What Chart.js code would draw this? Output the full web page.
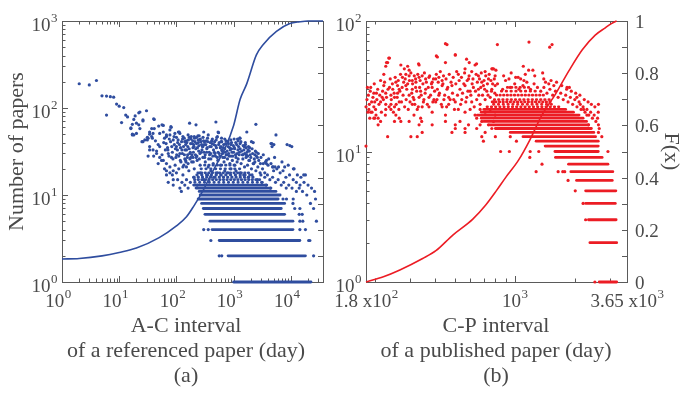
<!DOCTYPE html>
<html>
<head>
<meta charset="utf-8">
<script src="https://cdn.jsdelivr.net/npm/chart.js@4.4.0/dist/chart.umd.min.js"></script>
<style>
  html, body { margin: 0; padding: 0; background: #fff; }
  #wrap { position: relative; width: 682px; height: 395px; }
  .panel { position: absolute; top: 0; height: 395px; }
</style>
</head>
<body>
<div id="wrap">
  <div class="panel" style="left:0;width:341px"><canvas id="chartA"></canvas></div>
  <div class="panel" style="left:300px;width:382px"><canvas id="chartB"></canvas></div>
</div>
<script>
// ---------- panel (a): A-C interval ----------
var aTailPts = [[2,190],[3,184],[4,207],[5,138],[6,137],[7,135],[8,133],[6,83],[9,111],[10,105],[12,101],[11,68],
  [13,83],[14,79],[17,65],[18,74],[16,59],[19,81],[22,88],[23,90],[30,93],[26,71],[17,50],[18,49],[20,51],[26,41],
  [28,43],[31,46],[40,75],[37,58],[41,58],[49,62],[56,64],[59,63],[81,60],[34,50],[31,43],[38,45],[20,67],[22,64],
  [16,58],[17,49],[26,73],[23,58],[41,74],[34,53],[39,51],[25,41],[32,45],[37,47],[80,61],[112,53]];

var aCloudPts = [[170,67],[220,64],[490,69],[2450,65],[205,47],[250,48],[300,53],[545,52],[520,47],[535,53],
  [1285,45],[1170,44],[1700,53],[5500,49],[4650,39],[5050,38],[8600,38],[9600,37],[10400,36],[1600,40],[2200,40],
  [2400,32],[2500,31],[1670,29],[1850,25],[2350,24],[2940,23],[3740,23],[4800,21],[5300,21],[6100,21],[7800,21],
  [11100,20],[16800,17],[1020,44],[1290,45],[1200,42],[2050,41],[4500,39],[4700,36],[800,36],[920,34],[1530,36],
  [1780,33],[2700,30],[3750,25],[4900,21],[11400,20],[18000,17],[3500,18],[3000,17],[1460,29],[1200,26],[2200,23],
  [700,44],[620,41],[310,41],[240,43],[160,49],[180,44],[140,41],
  [51,51],[59,53],[67,47],[77,49],[88,43],[100,46],[115,51],[34,36],[39,33],[45,30],[51,27],[59,25],[67,23],[77,21],
  [88,19],[100,18],[67,17],[72,14],[88,13],[115,12],[122,11],[150,33],[172,30],[195,27],[225,39],[257,43],[290,36],
  [34,33],[32,28],[45,32],[51,36],[48,23],[55,25],[67,19],[77,18],[88,15],[67,49],[77,56],[94,51],[108,53],[130,47],
  [100,36],[115,30],[140,26],[150,21],
  [110,28],[125,33],[135,22],[145,38],[155,27],[165,19],[175,31],[185,24],[195,35],[205,20],[215,29],[230,25],
  [245,32],[260,22],[275,38],[290,27],[305,31],[320,24],[340,34],[360,21],[380,29],[400,26],[420,39],[440,23],
  [460,31],[480,28],[500,35],[530,25],[560,30],[590,22],[620,33],[650,27],[680,24],[710,31],[740,29],[780,26],
  [820,30],[860,23],[900,28],[950,25],[1000,31],[1050,22],[1100,27],[1150,24],[1250,29],[1350,23],[1450,26],
  [1550,21],[1650,27],[1750,22],[1900,25],[2050,20],[2250,23],[2450,19],[2650,21],[2900,18],[3200,20],[3500,16],
  [3900,17],[4300,15],[4800,16],[5400,14],[6000,15],[6800,13],[7500,14],[8300,12],[9200,13],[10500,12],[12500,11],
  [14000,12],[16000,11],[19000,10],[130,17],[150,15],[175,14],[200,16],[230,13],[260,18],[300,15],[350,17],
  [400,19],[450,16],[520,18],[600,17],[700,19],[800,18],[900,20],[1100,19],[1300,18],[1500,17],[1800,16],
  [2100,17],[2600,15],[3100,14],[3700,13],[4400,12],[200,38],[350,45],[600,36],[900,38],[1300,34],[1900,35],
  [2600,27],[3300,29],[4100,26],[5200,27],[7000,24],[9000,22],[13000,17],[15000,16],[20000,13],[23000,12],
  [26000,11],[27000,9],[22000,8],[25000,7],[28000,5],
  [105,40],[118,35],[128,44],[138,29],[148,42],[158,36],[168,46],[178,27],[188,39],[198,31],[208,45],[218,34],
  [228,28],[238,48],[248,37],[258,30],[268,41],[280,33],[292,46],[305,38],[318,29],[332,42],[345,35],[360,49],
  [375,31],[390,40],[405,36],[425,44],[445,33],[465,41],[485,37],[510,46],[535,31],[560,40],[585,35],[615,45],
  [640,30],[670,38],[700,34],[735,42],[770,32],[810,39],[850,35],[890,43],[940,31],[990,37],[1040,34],[1090,40],
  [1150,30],[1220,36],[1300,39],[1380,32],[1470,37],[1560,30],[1650,35],[1760,28],[1880,32],[2000,27],[2150,30],
  [2300,26],[2500,28],[2750,25],[3000,27],[3300,23],[3600,24],[4000,22],[4500,23],[5000,19],[5700,20],[6500,18],
  [7300,19],[8200,16],[9500,17],[11000,15],[12500,14],[14500,13],[17000,14],[60,40],[70,35],[75,44],[85,31],
  [92,38],[98,27],[104,33],[120,24],[130,21],[145,25],[160,23],[110,20],[95,22],[82,27],[72,30],[64,33],[56,29],
  [48,38],[43,42],[40,28],[62,20],[85,17],[105,15],[125,14],[140,13],[160,12],
  [62,45],[66,39],[71,33],[74,28],[79,41],[83,36],[87,26],[91,47],[96,34],[101,29],[107,43],[113,38],[117,25],
  [123,41],[127,30],[133,36],[137,45],[142,33],[147,24],[152,40],[157,29],[162,43],[167,34],[172,26],[177,39],
  [182,47],[187,29],[192,42],[197,24],[203,36],[211,41],[221,27],[226,46],[233,35],[242,40],[252,26],[262,44],
  [272,31],[285,36],[298,42],[312,27],[326,38],[338,31],[352,41],[367,26],[383,36],[398,30],[414,42],[432,28],
  [452,38],[473,30],[495,43],[518,27],[547,38],[575,28],[605,41],[632,32],[662,35],[695,27],[725,39],[758,29],
  [795,41],[835,28],[875,33],[920,40],[970,28],[1030,35],[1080,29],[1130,38],[1190,33],[1260,31],[1340,41],
  [1420,29],[1510,33],[1610,38],[1710,31],[1820,36],[1950,29],[2100,34],[2350,29]];

// rows of equal counts: [count, first day, last day]
var aRows = [[1,1000,22500],[2,800,18000],[3,560,14400],[4,420,10900],[5,385,10900],[6,315,7800],[7,295,6800],
  [8,275,7800],[9,240,6000],[10,260,6500],[11,250,5500],[12,220,4500],[13,200,3800],[14,200,3300],[15,190,2900],
  [16,200,2500],[17,210,2200],[18,220,1900],[20,240,1500],[22,300,1100]];
var aRowSingles = [[560,2],[620,2],[25000,2],[400,3],[20500,3],[21500,3],[300,4],[360,4],[14400,4],[18000,4],
  [14400,5],[16200,5],[14000,6],[15800,6],[11700,7],[14400,7],[10900,8],[7300,9],[8400,9],[11000,9]];

var aCdfX = [1,2,5,10,20,50,100,150,200,300,400,500,700,1000,1300,1700,2500,3300,5600,9600,14400,20000,36500];
var aCdfF = [0.088,0.09,0.10,0.113,0.13,0.17,0.215,0.25,0.29,0.355,0.41,0.45,0.51,0.6,0.7,0.76,0.87,0.91,0.96,0.99,0.997,1,1];

var aXTickExps = ['0','1','2','3','4'];
var aYTickExps = ['0','1','2','3'];

// ---------- panel (b): C-P interval ----------
var bCloudPts = [[180,22],[184,20],[186,21],[190,20],[188,18],[193,20],[197,22],[199,18],[202,19],[207,18],
  [183,31],[190,31],[197,28],[204,25],[199,24],[213,24],[217,26],[197,18],[207,16],[213,17],
  [213,35],[221,39],[226,45],[231,48],[236,52],[221,32],[236,31],[245,30],[254,34],[259,32],[264,30],
  [226,28],[240,27],[250,26],[259,28],[226,23],[240,23],[250,22],[264,24],[226,21],[240,21],
  [254,19],[250,17],[264,18],[269,17],[231,13],[180,11],
  [269,46],[280,43],[291,45],[296,42],[274,37],[285,39],[296,38],
  [307,35],[319,36],[332,37],[344,38],[358,36],[372,37],[386,34],[402,36],[417,37],[433,35],
  [332,46],[410,53],[458,66],[504,55],[450,48],
  [285,32],[307,30],[319,31],[338,29],[358,30],[386,31],[410,30],[433,32],[458,30],[485,32],
  [296,27],[313,25],[332,26],[351,25],[372,26],[394,25],[417,27],[442,25],[467,26],[495,25],
  [307,23],[325,21],[344,22],[372,22],[402,24],[433,22],[467,23],[504,24],
  [313,19],[338,18],[386,20],[450,19],[296,17],[332,16],[342,17],[386,16],[450,17],[504,16],
  [302,13],[325,13],[344,14],[504,15],[485,14],[564,14],[697,12],[684,13],
  [522,39],[564,43],[587,36],[609,41],[633,46],[658,38],[684,34],[711,41],[739,36],[768,43],[798,38],
  [532,30],[564,32],[598,29],[621,31],[658,30],[697,32],[725,29],[768,30],[798,32],
  [543,25],[575,26],[609,24],[645,25],[671,23],[711,25],[754,26],[783,24],
  [522,21],[564,20],[598,21],[633,19],[671,21],[711,20],[754,21],[798,19],
  [532,17],[587,16],[645,18],[684,17],[739,16],[783,17],[564,15],[645,15],[671,16],[711,14],[768,15],
  [450,67],[819,66],[1179,69],[1497,63],[1538,66],[405,54],[504,55],[228,48],[234,52],[330,47],
  [574,51],[592,48],[644,47],[1104,45],[783,43],[1174,42],[1233,42],
  [774,43],[805,42],[936,36],[1011,37],[1071,36],[1112,35],[1398,36],[1427,34],[1481,33],[1570,32],
  [1828,31],[1878,31],[2048,26],[2626,23],[2130,23],[2213,21],[2298,19],[2342,16],[2626,16],[2626,14],[2730,13],
  [820,33],[870,30],[900,35],[950,31],[1000,33],[1050,30],[1100,32],[1150,34],[1200,30],[1250,33],[1300,31],
  [1350,29],[1400,31],[1450,28],[1500,30],[1550,27],[1600,29],[1650,26],[1700,28],[1750,25],[1800,27],
  [1850,24],[1900,26],[1950,23],[2000,25],[2050,22],[2100,24],[2150,21],[2200,22],[2250,20],[2300,21],
  [2350,19],[2400,20],[2450,18],[2500,19],[2550,17],[2600,18],[2650,15],
  [880,38],[960,40],[1040,37],[1130,39],[1260,38],[1380,40],[1520,35],[1620,34],[1720,32],[1820,30],
  [1920,29],[2020,28],[2120,27],[2230,25],[2330,24],[2420,23],[2520,22],[2620,20],
  [182,25],[185,27],[187,23],[189,29],[192,24],[195,26],[198,33],[201,21],[203,28],[206,30],[209,23],[211,27],
  [215,20],[218,29],[220,25],[223,34],[225,19],[228,26],[232,30],[235,22],[238,36],[241,25],[244,33],[247,20],
  [249,28],[252,37],[255,23],[258,26],[261,35],[263,21],[266,29],[268,39],[271,24],[273,31],[276,27],[278,34],
  [281,22],[283,36],[286,25],[288,30],[291,33],[293,21],[297,35],[299,24],[302,40],[305,28],[308,33],[310,26],
  [314,38],[316,23],[320,34],[323,29],[327,39],[329,22],[334,31],[336,35],[340,27],[347,33],[349,24],[353,40],
  [356,28],[361,34],[365,23],[369,31],[375,38],[379,27],[383,33],[389,24],[392,36],[397,29],[405,39],[408,25],
  [414,34],[420,28],[424,41],[429,23],[437,33],[440,38],[446,27],[453,36],[456,22],[462,31],[470,39],[475,25],
  [480,34],[488,28],[492,37],[499,21],[507,33],[512,41],[517,27],[527,35],[536,23],[541,37],[548,28],[556,33],
  [561,40],[569,24],[578,35],[583,29],[591,38],[603,27],[612,33],[618,36],[627,22],[636,29],[641,39],[650,34],
  [661,27],[666,36],[676,31],[680,40],[690,27],[702,35],[707,30],[716,38],[730,33],[735,27],[745,39],[760,35],
  [765,29],[775,33],[790,36],[795,28]];

var bRows = [[1,2650,3240],[2,2380,3240],[3,2340,3220],[4,2265,3190],[5,2265,3210],[6,2040,3080],[7,1910,3100],
  [8,1860,2930],[9,1600,2740],[10,1590,2620],[11,1420,2620],[12,1280,2620],[13,1100,2540],[14,950,2490],
  [15,800,2420],[16,750,2340],[17,700,2290],[18,680,2200],[19,650,2100],[20,680,1970],[21,700,1800],
  [22,720,1700],[23,750,1600],[24,760,1550],[25,780,1500],[27,800,1400],[29,850,1300],[31,900,1200]];
var bRowSingles = [[2520,1],[2265,3],[2200,4],[2010,5],[1850,6],[1280,7],[1650,7],[1740,7],[1780,7],[1370,8],
  [1190,9],[850,10],[940,10],[1195,10],[1320,10],[2930,10],[1020,12],[800,13],[950,13]];

var bCdfX = [180,220,266,346,403,490,615,716,810,900,1045,1190,1370,1600,1870,2180,2530,2830,3050,3240];
var bCdfF = [0,0.02,0.046,0.09,0.12,0.18,0.24,0.295,0.35,0.40,0.467,0.544,0.64,0.72,0.81,0.89,0.946,0.973,0.99,1];

var bXTickLabels = [[180,'1.8 x10','2'],[1000,'10','3'],[3650,'3.65 x10','3']];
var bYTickExps = ['0','1','2'];
var bFTickLabels = ['0','0.2','0.4','0.6','0.8','1'];

var BLUE = '#2f4d9f';
var RED = '#ec1c24';
var INK = '#4a4a4a';
var FRAME = '#5a5a5a';
var FONT = '"Liberation Serif", "Times New Roman", serif';

function toXY(pairs) {
    return pairs.map(function(p) { return {x: p[0], y: p[1]}; });
}

// rows at or above dotFrom are drawn as close dots, like the separate days they hold
function buildDatasets(color, cdfX, cdfF, rows, dotFrom, pointSets)
{
    var sets = [];
    sets.push({
        data: cdfX.map(function(x, i) { return {x: x, y: cdfF[i]}; }),
        yAxisID: 'f',
        showLine: true,
        borderColor: color,
        borderWidth: 1.6,
        pointRadius: 0,
        cubicInterpolationMode: 'monotone',
        clip: 3
    });
    rows.forEach(function(r) {
        var dotted = r[0] >= dotFrom;
        sets.push({
            data: [{x: r[1], y: r[0]}, {x: r[2], y: r[0]}],
            showLine: true,
            borderColor: color,
            borderWidth: 2.8,
            borderCapStyle: 'round',
            borderDash: dotted ? [0.5, 3.1 + (r[0] % 3) * 0.6] : [],
            borderDashOffset: dotted ? r[0] * 1.3 : 0,
            pointRadius: 0,
            clip: 3
        });
    });
    pointSets.forEach(function(pts) {
        sets.push({
            data: toXY(pts),
            backgroundColor: color,
            pointRadius: 1.6,
            pointBorderWidth: 0,
            clip: 3
        });
    });
    return sets;
}

// "10" with a small exponent; anchor is centre or right edge, y is baseline of the base text
function drawPower(ctx, base, exp, x, y, align)
{
    ctx.font = '19px ' + FONT;
    var bw = ctx.measureText(base).width;
    ctx.font = '13px ' + FONT;
    var ew = ctx.measureText(exp).width;
    var left = align === 'right' ? x - bw - ew : x - (bw + ew) / 2;
    ctx.textAlign = 'left';
    ctx.textBaseline = 'alphabetic';
    ctx.font = '19px ' + FONT;
    ctx.fillText(base, left, y);
    ctx.font = '13px ' + FONT;
    ctx.fillText(exp, left + bw + 0.5, y - 9);
}

function logTicks(min, max)
{
    var out = [];
    for (var d = Math.pow(10, Math.floor(Math.log10(min))); d <= max; d *= 10) {
        for (var m = 1; m < 10; m++) {
            var v = d * m;
            if (v >= min * 0.999 && v <= max * 1.001) out.push({v: v, major: m === 1});
        }
    }
    return out;
}

var framePlugin = {
    id: 'frame',
    beforeDatasetsDraw: function(chart) {
        var ctx = chart.ctx, a = chart.chartArea;
        var sx = chart.scales.x, sy = chart.scales.y, sf = chart.scales.f;
        ctx.save();
        ctx.strokeStyle = FRAME;
        ctx.lineWidth = 1;
        ctx.beginPath();
        logTicks(sx.min, sx.max).forEach(function(t) {
            var px = Math.round(sx.getPixelForValue(t.v)) + 0.5;
            var len = t.major ? 6 : 3.5;
            ctx.moveTo(px, a.bottom); ctx.lineTo(px, a.bottom - len);
            ctx.moveTo(px, a.top); ctx.lineTo(px, a.top + len);
        });
        logTicks(sy.min, sy.max).forEach(function(t) {
            var py = Math.round(sy.getPixelForValue(t.v)) + 0.5;
            var len = t.major ? 6 : 3.5;
            ctx.moveTo(a.left, py); ctx.lineTo(a.left + len, py);
        });
        for (var k = 0; k <= 10; k++) {
            var py = Math.round(sf.getPixelForValue(k / 10)) + 0.5;
            ctx.moveTo(a.right, py); ctx.lineTo(a.right - 5, py);
        }
        ctx.stroke();
        ctx.strokeRect(Math.round(a.left) + 0.5, Math.round(a.top) + 0.5,
            Math.round(a.right - a.left), Math.round(a.bottom - a.top));
        ctx.restore();
    },
    afterDraw: function(chart, args, o) {
        var ctx = chart.ctx, a = chart.chartArea;
        var sx = chart.scales.x, sy = chart.scales.y, sf = chart.scales.f;
        ctx.save();
        ctx.fillStyle = INK;
        o.xLabels.forEach(function(l) {
            drawPower(ctx, l[1], l[2], sx.getPixelForValue(l[0]) - o.xShift, a.bottom + 25, 'center');
        });
        o.yExps.forEach(function(e) {
            var py = sy.getPixelForValue(Math.pow(10, +e));
            drawPower(ctx, '10', e, a.left - 5, py + 10, 'right');
        });
        if (o.fLabels) {
            ctx.font = '19px ' + FONT;
            ctx.textAlign = 'left';
            ctx.textBaseline = 'middle';
            o.fLabels.forEach(function(s) {
                ctx.fillText(s, a.right + 8, sf.getPixelForValue(parseFloat(s)) + 2);
            });
        }
        ctx.font = '22px ' + FONT;
        ctx.textAlign = 'center';
        ctx.textBaseline = 'alphabetic';
        o.title.forEach(function(s, i) {
            ctx.fillText(s, o.titleX, 332 + i * 25);
        });
        ctx.textBaseline = 'middle';
        if (o.yTitle) {
            ctx.save();
            ctx.translate(o.yTitle[1], (a.top + a.bottom) / 2);
            ctx.rotate(-Math.PI / 2);
            ctx.fillText(o.yTitle[0], 0, 0);
            ctx.restore();
        }
        if (o.fTitle) {
            ctx.save();
            ctx.translate(o.fTitle[1], (a.top + a.bottom) / 2);
            ctx.rotate(Math.PI / 2);
            ctx.fillText(o.fTitle[0], 0, 0);
            ctx.restore();
        }
        ctx.restore();
    }
};

function makeChart(id, datasets, xr, yr, pad, frameOpts)
{
    return new Chart(document.getElementById(id), {
        type: 'scatter',
        data: { datasets: datasets },
        plugins: [framePlugin],
        options: {
            responsive: true,
            maintainAspectRatio: false,
            animation: false,
            devicePixelRatio: 1,
            layout: { padding: pad },
            plugins: {
                legend: { display: false },
                tooltip: { enabled: false },
                frame: frameOpts
            },
            scales: {
                x: { type: 'logarithmic', min: xr[0], max: xr[1], display: false },
                y: { type: 'logarithmic', min: yr[0], max: yr[1], display: false },
                f: { type: 'linear', min: 0, max: 1, display: false }
            }
        }
    });
}

window.onload = function() {
    makeChart('chartA',
        buildDatasets(BLUE, aCdfX, aCdfF, aRows, 14, [aTailPts, aCloudPts, aRowSingles]),
        [1, 36500], [1, 1000],
        {left: 62, right: 18, top: 21, bottom: 113},
        {
            xLabels: aXTickExps.map(function(e) { return [Math.pow(10, +e), '10', e]; }),
            xShift: 4,
            yExps: aYTickExps,
            title: ['A-C interval', 'of a referenced paper (day)', '(a)'],
            titleX: 186,
            yTitle: ['Number of papers', 17]
        });
    makeChart('chartB',
        buildDatasets(RED, bCdfX, bCdfF, bRows, 22, [bCloudPts, bRowSingles]),
        [180, 3650], [1, 100],
        {left: 66, right: 55, top: 21, bottom: 113},
        {
            xLabels: bXTickLabels,
            xShift: 0,
            yExps: bYTickExps,
            fLabels: bFTickLabels,
            title: ['C-P interval', 'of a published paper (day)', '(b)'],
            titleX: 196,
            fTitle: ['F(x)', 371]
        });
};
</script>
</body>
</html>
